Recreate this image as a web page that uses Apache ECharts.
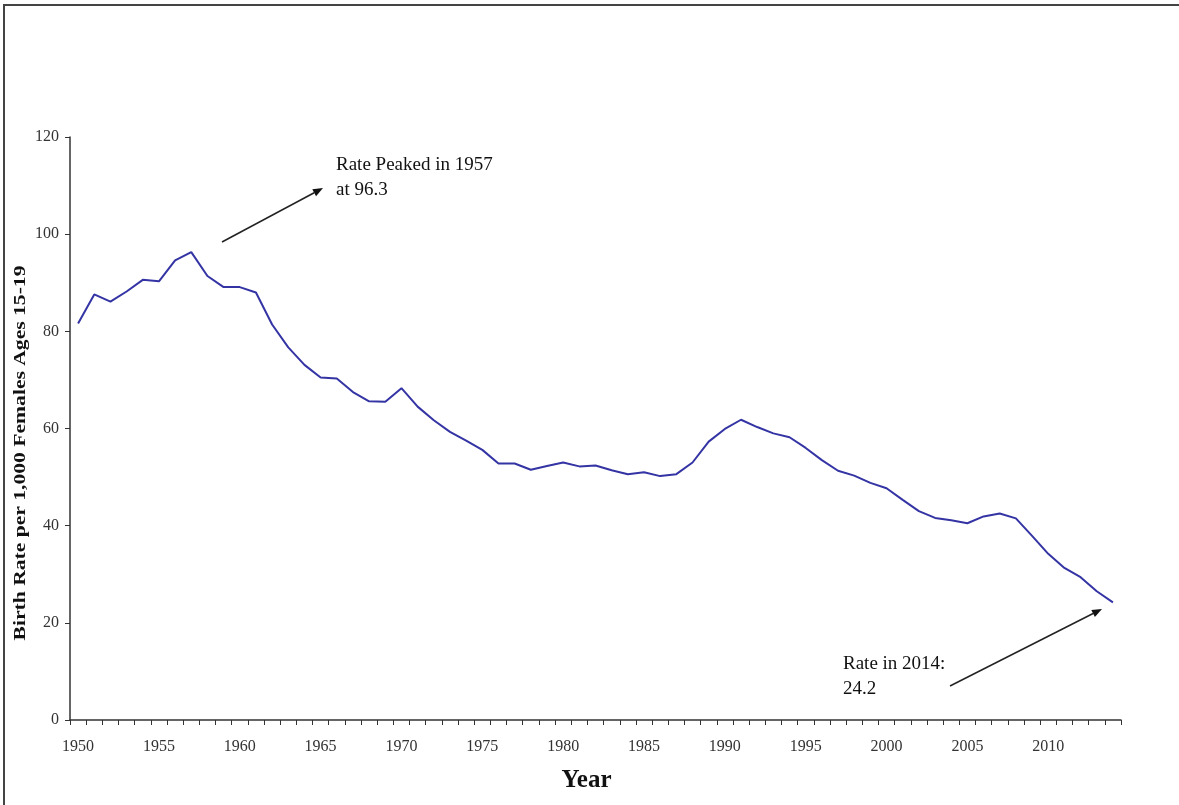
<!DOCTYPE html>
<html>
<head>
<meta charset="utf-8">
<style>
  html, body { margin: 0; padding: 0; background: #fff; }
  #chart { width: 1179px; height: 805px; }
</style>
<script src="https://cdn.jsdelivr.net/npm/echarts@6/dist/echarts.min.js"></script>
</head>
<body>
<div id="chart"></div>
<script>
// teen birth rate, per 1,000 females aged 15-19
var years = [];
for (var y = 1950; y <= 2014; y++) years.push(String(y));

var birthRate = [
  81.6, 87.6, 86.1, 88.2, 90.6, 90.3, 94.6, 96.3, 91.4, 89.1,
  89.1, 88.0, 81.4, 76.7, 73.1, 70.5, 70.3, 67.5, 65.6, 65.5,
  68.3, 64.5, 61.7, 59.3, 57.5, 55.6, 52.8, 52.8, 51.5, 52.3,
  53.0, 52.2, 52.4, 51.4, 50.6, 51.0, 50.2, 50.6, 53.0, 57.3,
  59.9, 61.8, 60.3, 59.0, 58.2, 56.0, 53.5, 51.3, 50.3, 48.8,
  47.7, 45.3, 43.0, 41.6, 41.1, 40.5, 41.9, 42.5, 41.5, 37.9,
  34.2, 31.3, 29.4, 26.5, 24.2
];

var yTicks = { min: 0, max: 120, interval: 20 };

var serif = '"Liberation Serif", "DejaVu Serif", serif';

var myChart = echarts.init(document.getElementById('chart'));

function arrow(x1, y1, x2, y2) {
    var dx = x2 - x1, dy = y2 - y1;
    var len = Math.sqrt(dx * dx + dy * dy);
    var ux = dx / len, uy = dy / len;
    var bx = x2 - ux * 10, by = y2 - uy * 10;
    var nx = -uy * 4, ny = ux * 4;
    return [
        {
            type: 'line',
            shape: { x1: x1, y1: y1, x2: bx, y2: by },
            style: { stroke: '#222', lineWidth: 1.5 }
        },
        {
            type: 'polygon',
            shape: { points: [[x2, y2], [bx + nx, by + ny], [bx - nx, by - ny]] },
            style: { fill: '#111' }
        }
    ];
}

var option = {
    animation: false,
    backgroundColor: '#fff',
    grid: {
        left: 70,
        right: 58,
        top: 137,
        bottom: 85
    },
    xAxis: {
        type: 'category',
        data: years,
        boundaryGap: true,
        name: 'Year',
        nameLocation: 'middle',
        nameGap: 48,
        nameTextStyle: {
            fontFamily: serif, fontWeight: 'bold', fontSize: 25, color: '#111',
            padding: [0, 18, 0, 0]
        },
        axisLine: { lineStyle: { color: '#333', width: 1.5 } },
        axisTick: { show: true, interval: 0, length: 5, lineStyle: { color: '#333' } },
        axisLabel: {
            interval: 4,
            margin: 19,
            fontFamily: serif,
            fontSize: 16,
            color: '#333'
        },
        splitLine: { show: false }
    },
    yAxis: {
        type: 'value',
        min: yTicks.min,
        max: yTicks.max,
        interval: yTicks.interval,
        axisLine: { show: true, lineStyle: { color: '#333', width: 1.5 } },
        axisTick: { show: true, length: 5, lineStyle: { color: '#333' } },
        axisLabel: { margin: 11, fontFamily: serif, fontSize: 16, color: '#333' },
        splitLine: { show: false }
    },
    series: [{
        type: 'line',
        data: birthRate,
        symbol: 'none',
        lineStyle: { color: '#3434a4', width: 2 }
    }],
    graphic: [
        // outer frame
        { type: 'line', shape: { x1: 3, y1: 5, x2: 1179, y2: 5 }, style: { stroke: '#444', lineWidth: 2 } },
        { type: 'line', shape: { x1: 4, y1: 4, x2: 4, y2: 805 }, style: { stroke: '#444', lineWidth: 2 } },
        {
            type: 'text', x: 21, y: 453, rotation: Math.PI / 2, scaleX: 1.35,
            style: {
                text: 'Birth Rate per 1,000 Females Ages 15-19',
                font: 'bold 16px ' + serif, fill: '#111',
                align: 'center', verticalAlign: 'middle'
            }
        },
        {
            type: 'text', left: 336, top: 153,
            style: { text: 'Rate Peaked in 1957\nat 96.3', font: '19px ' + serif, fill: '#111', lineHeight: 25 }
        },
        {
            type: 'text', left: 843, top: 652,
            style: { text: 'Rate in 2014:\n24.2', font: '19px ' + serif, fill: '#111', lineHeight: 25 }
        }
    ].concat(arrow(222, 242, 323, 188)).concat(arrow(950, 686, 1102, 609))
};

myChart.setOption(option);
</script>
</body>
</html>
